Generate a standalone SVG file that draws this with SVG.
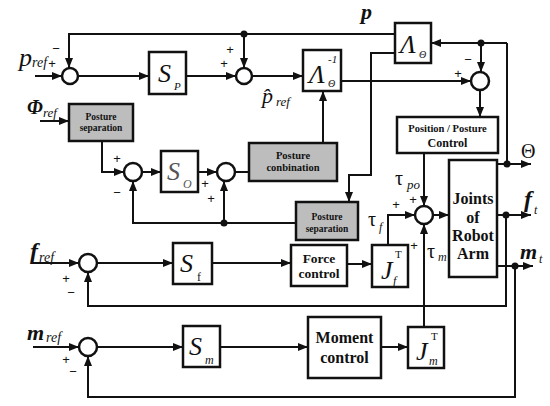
<svg xmlns="http://www.w3.org/2000/svg" width="550" height="406" viewBox="0 0 550 406">
<defs>
<marker id="a" viewBox="0 0 10 8" refX="10" refY="4" markerWidth="11" markerHeight="8" orient="auto" markerUnits="userSpaceOnUse"><path d="M0,0 L10,4 L0,8 z" fill="#111"/></marker>
</defs>
<style>
.ln{fill:none;stroke:#111;stroke-width:2}
.ar{marker-end:url(#a)}
.bx{fill:#fff;stroke:#111;stroke-width:2.5}
.gb{fill:#bdbdbd;stroke:#111;stroke-width:2.5}
.sj{fill:#fff;stroke:#111;stroke-width:2.5}
.dot{fill:#111}
.m{font-family:"Liberation Serif",serif;font-style:italic;fill:#111}
.mb{font-family:"Liberation Serif",serif;font-style:italic;font-weight:bold;fill:#111}
.b{font-family:"Liberation Serif",serif;font-weight:bold;fill:#111;text-anchor:middle}
.s{font-family:"Liberation Sans",sans-serif;font-size:13px;fill:#111;text-anchor:middle}
.g{font-family:"Liberation Serif",serif;fill:#111}
</style>
<g id="connectors">
<path class="ln ar" d="M35,76 H62"/>
<path class="ln ar" d="M78,76 H149"/>
<path class="ln ar" d="M186,76 H236"/>
<path class="ln ar" d="M395,34 H69 V68"/>
<path class="ln ar" d="M244,34 V68"/>
<path class="ln ar" d="M252,76 H303"/>
<path class="ln ar" d="M341,81 H471"/>
<path class="ln ar" d="M507,43 H431"/>
<path class="ln" d="M507,43 V164"/>
<path class="ln ar" d="M481,43 V72"/>
<path class="ln ar" d="M480,90 V117"/>
<path class="ln ar" d="M395,53 H371 V175 H349 V202"/>
<path class="ln ar" d="M424,153 V206"/>
<path class="ln ar" d="M388,245 V215 H415"/>
<path class="ln ar" d="M424,327 V224"/>
<path class="ln ar" d="M433,215 H449"/>
<path class="ln ar" d="M497,164 H531"/>
<path class="ln ar" d="M497,215 H531"/>
<path class="ln ar" d="M497,266 H533"/>
<path class="ln ar" d="M506,215 V306 H88 V272"/>
<path class="ln ar" d="M515,266 V397 H88 V356"/>
<path class="ln ar" d="M33,263 H79"/>
<path class="ln ar" d="M97,263 H173"/>
<path class="ln ar" d="M212,263 H291"/>
<path class="ln ar" d="M347,264 H372"/>
<path class="ln ar" d="M33,347 H79"/>
<path class="ln ar" d="M97,347 H183"/>
<path class="ln ar" d="M220,347 H308"/>
<path class="ln ar" d="M381,347 H408"/>
<path class="ln ar" d="M40,121 H69"/>
<path class="ln ar" d="M102,141 V172 H124"/>
<path class="ln ar" d="M142,172 H161"/>
<path class="ln ar" d="M198,172 H217"/>
<path class="ln" d="M235,172 H249"/>
<path class="ln ar" d="M323,143 V91"/>
<path class="ln ar" d="M296,223 H133 V181"/>
<path class="ln ar" d="M224,223 V181"/>
<circle class="dot" cx="244" cy="34" r="3.5"/>
<circle class="dot" cx="481" cy="43" r="3.5"/>
<circle class="dot" cx="507" cy="164" r="3.5"/>
<circle class="dot" cx="506" cy="215" r="3.5"/>
<circle class="dot" cx="515" cy="266" r="3.5"/>
<circle class="dot" cx="224" cy="223" r="3.5"/>
</g>
<g id="sum1"><circle class="sj" cx="70" cy="76" r="8"/><text class="s" x="56" y="53">−</text><text class="s" x="52" y="68">+</text></g>
<g id="sum2"><circle class="sj" cx="244" cy="76" r="8"/><text class="s" x="230" y="54">+</text><text class="s" x="224" y="68">+</text></g>
<g id="sum3"><circle class="sj" cx="480" cy="81" r="9"/><text class="s" x="468" y="64">−</text><text class="s" x="458" y="78">+</text></g>
<g id="sum4"><circle class="sj" cx="424" cy="215" r="9"/><text class="s" x="413" y="204">+</text><text class="s" x="396" y="209">+</text><text class="s" x="414" y="250">+</text></g>
<g id="sum5"><circle class="sj" cx="133" cy="172" r="9"/><text class="s" x="117" y="163">+</text><text class="s" x="117" y="197">−</text></g>
<g id="sum6"><circle class="sj" cx="226" cy="172" r="9"/><text class="s" x="205" y="188">+</text><text class="s" x="211" y="203">+</text></g>
<g id="sumf"><circle class="sj" cx="88" cy="263" r="9"/><text class="s" x="66" y="283">+</text><text class="s" x="71" y="297">−</text></g>
<g id="summ"><circle class="sj" cx="88" cy="347" r="9"/><text class="s" x="66" y="364">+</text><text class="s" x="73" y="376">−</text></g>
<g id="Sp"><rect class="bx" x="149" y="52" width="37" height="42"/><text class="m" x="158" y="82" font-size="26">S</text><text class="m" x="174" y="90" font-size="11">P</text></g>
<g id="LambdaInv"><rect class="bx" x="303" y="50" width="38" height="41"/><text class="m" x="309" y="83" font-size="26">Λ</text><text class="m" x="328" y="63" font-size="11">-1</text><text class="m" x="328" y="87" font-size="10">Θ</text></g>
<g id="LambdaTheta"><rect class="bx" x="395" y="23" width="36" height="40"/><text class="m" x="400" y="53" font-size="26">Λ</text><text class="m" x="419" y="58" font-size="10">Θ</text></g>
<g id="PPC"><rect class="bx" x="397" y="117" width="101" height="36"/><text class="b" x="447.5" y="132" font-size="10.5">Position / Posture</text><text class="b" x="447.5" y="147" font-size="12">Control</text></g>
<g id="PS1"><rect class="gb" x="69" y="104" width="64" height="37"/><text class="b" x="101" y="120" font-size="9.5">Posture</text><text class="b" x="101" y="131" font-size="9.5">separation</text></g>
<g id="So"><rect class="bx" x="161" y="151" width="37" height="41"/><text class="m" x="167" y="180" font-size="26" style="fill:#555">S</text><text class="m" x="183" y="188" font-size="12" style="fill:#555">O</text></g>
<g id="PC"><rect class="gb" x="249" y="143" width="88" height="38"/><text class="b" x="293" y="159" font-size="10.5">Posture</text><text class="b" x="293" y="171" font-size="10.5">conbination</text></g>
<g id="PS2"><rect class="gb" x="296" y="202" width="62" height="38"/><text class="b" x="327" y="220" font-size="9.5">Posture</text><text class="b" x="327" y="232" font-size="9.5">separation</text></g>
<g id="Joints"><rect class="bx" x="449" y="160" width="48" height="117"/><text class="b" x="473" y="204" font-size="16">Joints</text><text class="b" x="473" y="223" font-size="16">of</text><text class="b" x="473" y="241" font-size="16">Robot</text><text class="b" x="473" y="259" font-size="16">Arm</text></g>
<g id="Sf"><rect class="bx" x="173" y="243" width="39" height="41"/><text class="m" x="180" y="272" font-size="26">S</text><text class="g" x="197" y="281" font-size="12">f</text></g>
<g id="FC"><rect class="bx" x="291" y="245" width="56" height="41"/><text class="b" x="319" y="263" font-size="13.5">Force</text><text class="b" x="319" y="278" font-size="13.5">control</text></g>
<g id="Jf"><rect class="bx" x="372" y="245" width="36" height="42"/><text class="m" x="381" y="279" font-size="26">J</text><text class="g" x="395" y="258" font-size="11">T</text><text class="m" x="393" y="285" font-size="12">f</text></g>
<g id="Sm"><rect class="bx" x="183" y="326" width="37" height="41"/><text class="m" x="189" y="355" font-size="26">S</text><text class="m" x="205" y="364" font-size="12">m</text></g>
<g id="MC"><rect class="bx" x="308" y="317" width="73" height="61"/><text class="b" x="344.5" y="343" font-size="16">Moment</text><text class="b" x="344.5" y="363" font-size="16">control</text></g>
<g id="Jm"><rect class="bx" x="408" y="327" width="36" height="41"/><text class="m" x="416" y="360" font-size="26">J</text><text class="g" x="431" y="340" font-size="11">T</text><text class="m" x="429" y="365" font-size="12">m</text></g>
<g id="labels">
<text class="mb" x="361" y="19" font-size="22">p</text>
<text class="m" x="19" y="66" font-size="26">p</text><text class="m" x="32" y="67" font-size="14">ref</text>
<text class="m" x="262" y="103" font-size="22">p̂</text><text class="m" x="276" y="106" font-size="13">ref</text>
<text class="mb" x="27" y="114" font-size="20">Φ</text><text class="m" x="43" y="117" font-size="13">ref</text>
<text class="mb" x="30" y="259" font-size="24">f</text><text class="m" x="39" y="262" font-size="14">ref</text>
<text class="mb" x="27" y="340" font-size="22">m</text><text class="m" x="46" y="342" font-size="14">ref</text>
<text class="g" x="395" y="185" font-size="20">τ</text><text class="m" x="407" y="189" font-size="13">po</text>
<text class="g" x="368" y="226" font-size="20">τ</text><text class="m" x="379" y="231" font-size="12">f</text>
<text class="g" x="427" y="258" font-size="20">τ</text><text class="m" x="438" y="261" font-size="12">m</text>
<text class="g" x="521" y="158" font-size="20">Θ</text>
<text class="mb" x="524" y="207" font-size="24">f</text><text class="m" x="534" y="214" font-size="12">t</text>
<text class="mb" x="520" y="259" font-size="22">m</text><text class="m" x="539" y="263" font-size="12">t</text>
</g>
</svg>
